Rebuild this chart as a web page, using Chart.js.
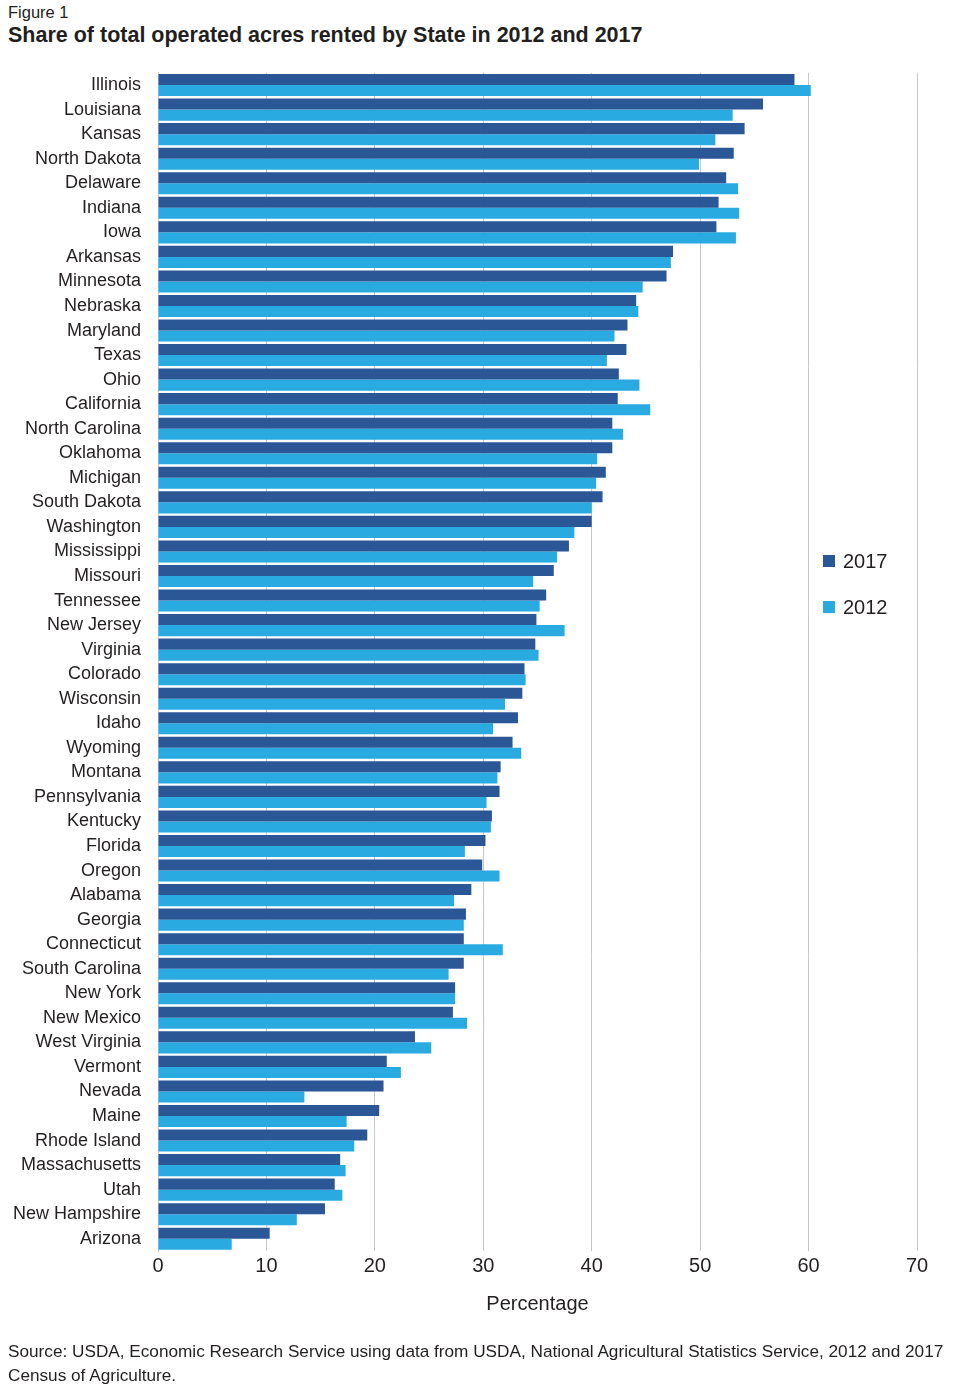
<!DOCTYPE html>
<html>
<head>
    <title>Share of total operated acres rented by State</title>
    <style>
        body { margin: 0; width: 967px; height: 1396px; position: relative; background: #fff;
               font-family: "Liberation Sans", Arial, sans-serif; color: #231f20; }
        #fig { position: absolute; left: 8px; top: 3px; font-size: 16.5px; }
        #title { position: absolute; left: 8px; top: 23px; font-size: 21.5px; font-weight: bold; }
        #wrap { position: absolute; left: 0; top: 45px; width: 967px; height: 1297px; }
        #source { position: absolute; left: 8px; top: 1339px; font-size: 17.2px; line-height: 24px; width: 960px; }
    </style>
</head>
<body>
<div id="fig">Figure 1</div>
<div id="title">Share of total operated acres rented by State in 2012 and 2017</div>
<div id="wrap"><canvas id="chart"></canvas></div>
<div id="source">Source: USDA, Economic Research Service using data from USDA, National Agricultural Statistics Service, 2012 and 2017<br>Census of Agriculture.</div>

<script src="https://cdn.jsdelivr.net/npm/chart.js"></script>
<script>
    const states = ['Illinois', 'Louisiana', 'Kansas', 'North Dakota', 'Delaware', 'Indiana', 'Iowa',
        'Arkansas', 'Minnesota', 'Nebraska', 'Maryland', 'Texas', 'Ohio', 'California',
        'North Carolina', 'Oklahoma', 'Michigan', 'South Dakota', 'Washington', 'Mississippi',
        'Missouri', 'Tennessee', 'New Jersey', 'Virginia', 'Colorado', 'Wisconsin', 'Idaho',
        'Wyoming', 'Montana', 'Pennsylvania', 'Kentucky', 'Florida', 'Oregon', 'Alabama',
        'Georgia', 'Connecticut', 'South Carolina', 'New York', 'New Mexico', 'West Virginia',
        'Vermont', 'Nevada', 'Maine', 'Rhode Island', 'Massachusetts', 'Utah', 'New Hampshire',
        'Arizona'];
    const share2017 = [58.7, 55.8, 54.1, 53.1, 52.4, 51.7, 51.5,
        47.5, 46.9, 44.1, 43.3, 43.2, 42.5, 42.4,
        41.9, 41.9, 41.3, 41.0, 40.0, 37.9,
        36.5, 35.8, 34.9, 34.8, 33.8, 33.6, 33.2,
        32.7, 31.6, 31.5, 30.8, 30.2, 29.9, 28.9,
        28.4, 28.2, 28.2, 27.4, 27.2, 23.7,
        21.1, 20.8, 20.4, 19.3, 16.8, 16.3, 15.4,
        10.3];
    const share2012 = [60.2, 53.0, 51.4, 49.9, 53.5, 53.6, 53.3,
        47.3, 44.7, 44.3, 42.1, 41.4, 44.4, 45.4,
        42.9, 40.5, 40.4, 40.0, 38.4, 36.8,
        34.6, 35.2, 37.5, 35.1, 33.9, 32.0, 30.9,
        33.5, 31.3, 30.3, 30.7, 28.3, 31.5, 27.3,
        28.2, 31.8, 26.8, 27.4, 28.5, 25.2,
        22.4, 13.5, 17.4, 18.1, 17.3, 17.0, 12.8,
        6.8];
    const xTicks = [0, 10, 20, 30, 40, 50, 60, 70];

    const textColor = '#231f20';
    const fontFamily = '"Liberation Sans", Arial, sans-serif';

    // legend drawn by hand, sitting inside the plot on the right
    const sideLegend = {
        id: 'sideLegend',
        afterDraw(chart) {
            const ctx = chart.ctx;
            ctx.save();
            ctx.font = '20px ' + fontFamily;
            ctx.textBaseline = 'middle';
            chart.data.datasets.forEach((ds, i) => {
                const y = 561 - 45 + i * 46;
                ctx.fillStyle = ds.backgroundColor;
                ctx.fillRect(823, y - 6, 12, 12);
                ctx.fillStyle = textColor;
                ctx.fillText(ds.label, 843, y + 1);
            });
            ctx.restore();
        }
    };

    new Chart(document.getElementById('chart'), {
        type: 'bar',
        data: {
            labels: states,
            datasets: [
                {label: '2017', data: share2017, backgroundColor: '#2b5797'},
                {label: '2012', data: share2012, backgroundColor: '#29abe2'}
            ]
        },
        options: {
            indexAxis: 'y',
            responsive: true,
            maintainAspectRatio: false,
            animation: false,
            layout: {padding: {top: 12, bottom: 26, left: 0, right: 50}},
            datasets: {bar: {categoryPercentage: 0.9, barPercentage: 1.0}},
            plugins: {legend: {display: false}, tooltip: {enabled: false}},
            scales: {
                x: {
                    min: 0, max: 70,
                    afterBuildTicks: (s) => { s.ticks = xTicks.map(v => ({value: v})); },
                    grid: {color: '#c8c8c8', drawTicks: false, lineWidth: 1},
                    border: {display: false},
                    ticks: {color: textColor, font: {family: fontFamily, size: 20}, padding: 3},
                    title: {display: true, text: 'Percentage', color: textColor,
                        font: {family: fontFamily, size: 20}, padding: {top: 11, bottom: 0}}
                },
                y: {
                    afterFit: (s) => { s.width = 158; },
                    grid: {display: false, drawTicks: false},
                    border: {display: true, color: '#c8c8c8'},
                    ticks: {color: textColor, font: {family: fontFamily, size: 18}, padding: 17, autoSkip: false}
                }
            }
        },
        plugins: [sideLegend]
    });
</script>
</body>
</html>
